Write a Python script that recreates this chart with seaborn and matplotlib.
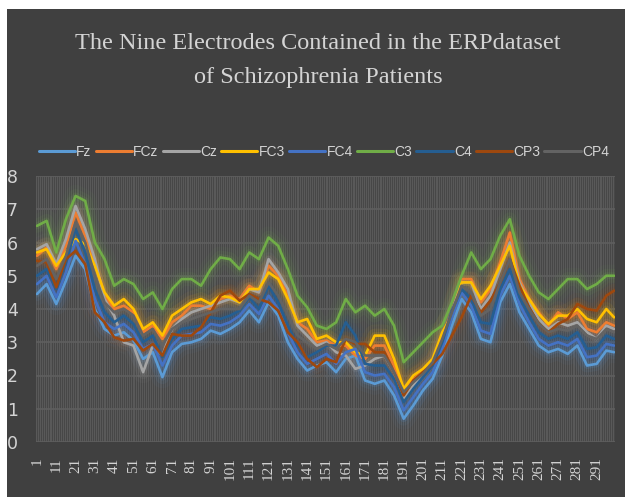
import numpy as np
import pandas as pd
import matplotlib
matplotlib.use("Agg")
import matplotlib.pyplot as plt
from matplotlib.lines import Line2D
from matplotlib.patches import Rectangle
import seaborn as sns

# sample points along the 300 time steps (read every 5 steps off the picture)
categories = list(range(1, 300, 5)) + [300]
tick_vals = list(range(1, 300, 10))
electrodes = ['Fz', 'FCz', 'Cz', 'FC3', 'FC4', 'C3', 'C4', 'CP3', 'CP4']
colors = ['#5B9BD5', '#ED7D31', '#A5A5A5', '#FFC000', '#4472C4',
          '#70AD47', '#255E91', '#9E480E', '#636363']

Fz = [4.45, 4.75, 4.15, 4.85, 5.6, 5.2, 4.0, 3.4, 3.2, 3.3, 3.05, 2.5, 2.7, 1.95, 2.7,
      2.95, 3.0, 3.1, 3.35, 3.25, 3.4, 3.6, 3.95, 3.6, 4.2, 3.8, 3.0, 2.5, 2.15, 2.3,
      2.4, 2.1, 2.5, 2.6, 1.85, 1.75, 1.85, 1.4, 0.7, 1.1, 1.55, 1.9, 2.6, 3.5, 4.3,
      3.9, 3.1, 3.0, 4.2, 4.75, 3.9, 3.4, 2.9, 2.7, 2.8, 2.65, 2.9, 2.3, 2.35, 2.75, 2.7]
FCz = [5.6, 5.85, 5.2, 5.9, 6.9, 6.2, 5.4, 4.4, 4.0, 4.1, 3.9, 3.3, 3.5, 3.1, 3.6,
       3.8, 4.1, 4.1, 4.0, 4.3, 4.4, 4.3, 4.7, 4.5, 5.3, 5.0, 4.4, 3.6, 3.4, 3.0,
       3.05, 2.9, 2.9, 2.6, 2.5, 2.9, 2.9, 2.3, 1.5, 1.9, 2.1, 2.4, 3.2, 3.9, 4.9,
       4.9, 4.2, 4.6, 5.4, 6.3, 4.9, 4.3, 3.9, 3.5, 3.9, 3.7, 3.9, 3.4, 3.3, 3.6, 3.5]
Cz = [5.8, 5.95, 5.35, 6.1, 7.1, 6.4, 5.5, 4.3, 3.8, 3.0, 2.9, 2.1, 2.9, 2.6, 3.4,
      3.7, 3.9, 4.0, 4.1, 4.2, 4.3, 4.2, 4.6, 4.5, 5.5, 5.1, 4.6, 3.5, 3.2, 2.9,
      3.0, 2.7, 2.6, 2.2, 2.3, 2.5, 2.6, 2.1, 1.3, 1.7, 2.0, 2.4, 3.1, 3.9, 4.8,
      4.8, 4.0, 4.4, 5.2, 6.0, 4.8, 4.2, 3.7, 3.4, 3.6, 3.5, 3.6, 3.3, 3.1, 3.5, 3.4]
FC3 = [5.7, 5.8, 5.3, 5.7, 6.1, 5.95, 5.3, 4.5, 4.1, 4.3, 4.0, 3.4, 3.6, 3.2, 3.8,
       4.0, 4.2, 4.3, 4.15, 4.4, 4.35, 4.2, 4.6, 4.6, 5.1, 4.9, 4.3, 3.6, 3.7, 3.1,
       3.2, 3.0, 3.0, 2.7, 2.6, 3.2, 3.2, 2.5, 1.6, 2.0, 2.2, 2.5, 3.3, 3.8, 4.8,
       4.8, 4.3, 4.7, 5.3, 5.9, 4.7, 4.3, 3.85, 3.55, 3.8, 3.8, 4.0, 3.7, 3.6, 4.0, 3.75]
FC4 = [4.75, 5.0, 4.35, 5.1, 6.05, 5.35, 4.3, 3.6, 3.4, 3.55, 3.3, 2.8, 2.95, 2.3, 2.9,
       3.2, 3.25, 3.3, 3.55, 3.5, 3.6, 3.8, 4.15, 3.85, 4.4, 4.0, 3.3, 2.7, 2.35, 2.5,
       2.65, 2.35, 2.7, 2.8, 2.1, 2.0, 2.05, 1.65, 0.95, 1.35, 1.75, 2.1, 2.8, 3.75, 4.5,
       4.1, 3.35, 3.25, 4.4, 5.0, 4.15, 3.6, 3.1, 2.9, 3.0, 2.9, 3.1, 2.55, 2.6, 2.95, 2.9]
C3 = [6.5, 6.65, 5.7, 6.7, 7.4, 7.25, 6.0, 5.5, 4.7, 4.9, 4.75, 4.3, 4.5, 4.0, 4.6,
      4.9, 4.9, 4.7, 5.2, 5.55, 5.5, 5.2, 5.7, 5.5, 6.15, 5.9, 5.2, 4.4, 4.05, 3.5,
      3.4, 3.6, 4.3, 3.9, 4.1, 3.8, 4.0, 3.5, 2.4, 2.7, 3.0, 3.3, 3.5, 4.2, 5.0,
      5.7, 5.2, 5.5, 6.2, 6.7, 5.6, 5.0, 4.5, 4.3, 4.6, 4.9, 4.9, 4.6, 4.75, 5.0, 5.0]
C4 = [5.0, 5.2, 4.6, 5.4, 6.4, 5.7, 4.6, 3.9, 3.6, 3.8, 3.55, 3.0, 3.2, 2.55, 3.1,
      3.4, 3.45, 3.5, 3.75, 3.7, 3.8, 3.95, 4.35, 4.0, 4.7, 4.2, 3.5, 2.9, 2.55, 2.7,
      2.9, 2.9, 3.6, 3.2, 2.35, 2.3, 2.3, 1.9, 1.2, 1.6, 1.95, 2.3, 3.0, 3.95, 4.6,
      4.3, 3.6, 3.55, 4.6, 5.2, 4.35, 3.8, 3.3, 3.1, 3.2, 3.1, 3.3, 2.8, 2.85, 3.2, 3.1]
CP3 = [5.45, 5.4, 4.65, 5.5, 5.75, 5.35, 3.9, 3.6, 3.15, 3.05, 3.1, 2.75, 2.95, 2.6, 3.25,
       3.2, 3.2, 3.45, 3.9, 4.4, 4.55, 4.25, 4.45, 4.3, 4.2, 3.95, 3.3, 3.0, 2.5, 2.25,
       2.5, 2.4, 3.1, 2.95, 2.95, 2.7, 2.7, 2.1, 1.4, 1.85, 2.1, 2.35, 2.65, 3.2, 3.75,
       4.4, 3.9, 4.25, 4.8, 5.5, 4.7, 4.05, 3.55, 3.3, 3.55, 3.7, 4.15, 4.0, 3.95, 4.4, 4.55]
CP4 = [5.3, 5.5, 4.9, 5.6, 6.6, 6.0, 5.0, 4.2, 3.9, 4.0, 3.8, 3.2, 3.4, 2.9, 3.4,
       3.6, 3.7, 3.8, 3.9, 4.0, 4.0, 4.0, 4.4, 4.2, 4.8, 4.4, 3.8, 3.2, 3.0, 2.8,
       2.95, 2.8, 3.1, 3.0, 2.6, 2.6, 2.6, 2.1, 1.5, 1.8, 2.05, 2.4, 3.1, 3.9, 4.7,
       4.5, 3.8, 4.0, 4.8, 5.5, 4.5, 4.0, 3.55, 3.3, 3.4, 3.35, 3.5, 3.2, 3.1, 3.4, 3.3]

df = pd.DataFrame({'idx': categories, 'Fz': Fz, 'FCz': FCz, 'Cz': Cz, 'FC3': FC3,
                   'FC4': FC4, 'C3': C3, 'C4': C4, 'CP3': CP3, 'CP4': CP4})
long = df.melt(id_vars='idx', var_name='electrode', value_name='value')

sns.set_style('dark', {'axes.facecolor': '#474747', 'figure.facecolor': 'white'})
txt = '#d4d4d4'

fig = plt.figure(figsize=(6.25, 4.97), dpi=100)
fig.patches.append(Rectangle((7 / 625, 0), 1, 1 - 9 / 497, transform=fig.transFigure,
                             facecolor='#404040', edgecolor='none', zorder=-10))
ax = fig.add_axes([36 / 625, 55 / 497, 579 / 625, 266 / 497])

# soft glow under every line, then the line itself
for lw, a in [(16, 0.045), (10, 0.08), (5, 0.14)]:
    sns.lineplot(data=long, x='idx', y='value', hue='electrode', hue_order=electrodes,
                 palette=colors, linewidth=lw, alpha=a, legend=False, estimator=None,
                 ax=ax)
sns.lineplot(data=long, x='idx', y='value', hue='electrode', hue_order=electrodes,
             palette=colors, linewidth=1.9, legend=False, estimator=None, ax=ax)

ax.set_xlim(0.5, 300.5)
ax.set_ylim(0, 8)
ax.set_xticks(tick_vals)
ax.set_xticklabels([str(t) for t in tick_vals], rotation=90, family='Liberation Serif',
                   fontsize=11, color=txt)
ax.set_xticks(np.arange(0.5, 301, 1), minor=True)
ax.set_yticks(range(0, 9))
ax.set_yticklabels([str(v) for v in range(0, 9)], fontsize=12.5, color=txt)
ax.grid(False)
ax.grid(which='minor', axis='x', color='#5a5a5a', linewidth=0.7)
ax.grid(which='major', axis='y', color='#5e5e5e', linewidth=1.2)
ax.tick_params(which='both', length=0)
ax.tick_params(axis='y', pad=13)
ax.tick_params(axis='x', pad=11)
ax.set_xlabel('')
ax.set_ylabel('')
for s in ax.spines.values():
    s.set_visible(False)

fig.text(0.509, 0.879, 'The Nine Electrodes Contained in the ERPdataset\nof Schizophrenia Patients',
         ha='center', va='center', family='Liberation Serif', fontsize=17.5,
         color=txt, linespacing=1.8)

handles = [Line2D([], [], color=c, linewidth=2.2) for c in colors]
fig.legend(handles, electrodes, loc='center', bbox_to_anchor=(0.518, 0.694), ncol=9,
           frameon=False, labelcolor=txt, handlelength=2.6,
           handletextpad=0.1, columnspacing=0.3,
           prop={'family': ['Liberation Sans Narrow', 'Liberation Sans'], 'size': 10})

fig.savefig('out.png', dpi=100)
